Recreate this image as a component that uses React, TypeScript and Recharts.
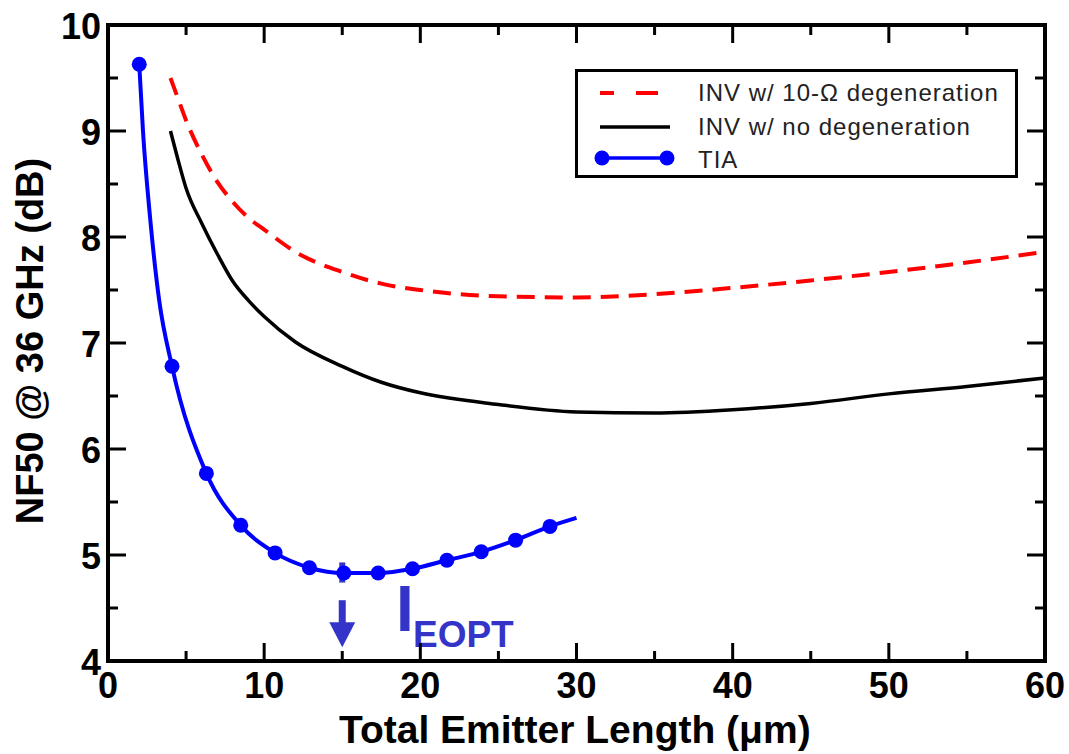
import React from 'react';
import {
  LineChart,
  Line,
  XAxis,
  YAxis,
  ReferenceArea,
  ReferenceLine,
  ReferenceDot,
  Legend,
} from 'recharts';

// TIA curve, marked points carry the round symbols
const tiaLength = [2, 2.24, 2.69, 3.27, 4.1, 6.3, 8.5, 10.7, 12.9, 15.1, 17.3, 19.5, 21.7, 23.9, 26.1, 28.3, 30];
const tiaNF = [9.63, 9.0, 8.19, 7.41, 6.78, 5.77, 5.28, 5.02, 4.88, 4.83, 4.83, 4.87, 4.95, 5.03, 5.14, 5.27, 5.35];
const tiaMarked = [true, false, false, false, true, true, true, true, true, true, true, true, true, true, true, true, false];

// inverter curves
const invLength = [4, 4.5, 5, 6, 7, 8, 9, 10, 12, 15, 17.5, 20, 25, 30, 35, 40, 45, 50, 55, 60];
const invNoDegNF = [9.0, 8.72, 8.46, 8.13, 7.84, 7.58, 7.4, 7.25, 7.01, 6.78, 6.63, 6.53, 6.42, 6.35, 6.34, 6.37, 6.43, 6.52, 6.59, 6.67];
const inv10NF = [9.5, 9.3, 9.1, 8.78, 8.52, 8.33, 8.18, 8.07, 7.86, 7.67, 7.56, 7.5, 7.44, 7.43, 7.46, 7.52, 7.59, 7.67, 7.76, 7.86];

const xTicks = [0, 5, 10, 15, 20, 25, 30, 35, 40, 45, 50, 55, 60];
const yTicks = [4, 4.5, 5, 5.5, 6, 6.5, 7, 7.5, 8, 8.5, 9, 9.5, 10];

const tiaData = tiaLength.map((x, i) => ({ x, y: tiaNF[i], marker: tiaMarked[i] }));
const noDegData = invLength.map((x, i) => ({ x, y: invNoDegNF[i] }));
const deg10Data = invLength.map((x, i) => ({ x, y: inv10NF[i] }));

const W = 1069;
const H = 754;
const MARGIN = { top: 25, right: 24, bottom: 33, left: 48 };
const PLOT_TOP = MARGIN.top;
const PLOT_RIGHT = W - MARGIN.right;
const FONT = '"Liberation Sans", Arial, Helvetica, sans-serif';
const BLUE = '#0000ff';
const ANNOT = '#3434c8';

const XTick = (props: any) => {
  const { x, y, payload } = props;
  const major = payload.value % 10 === 0;
  const len = major ? 18 : 10;
  return (
    <g>
      <line x1={x} y1={y} x2={x} y2={y - len} stroke="#000" strokeWidth={3} />
      <line x1={x} y1={PLOT_TOP} x2={x} y2={PLOT_TOP + len} stroke="#000" strokeWidth={3} />
      {major && (
        <text x={x} y={y + 37} textAnchor="middle" fontSize={36} fontWeight="bold" fontFamily={FONT} fill="#000">
          {payload.value}
        </text>
      )}
    </g>
  );
};

const YTick = (props: any) => {
  const { x, y, payload } = props;
  const major = Number.isInteger(payload.value);
  const len = major ? 18 : 10;
  return (
    <g>
      <line x1={x} y1={y} x2={x + len} y2={y} stroke="#000" strokeWidth={3} />
      <line x1={PLOT_RIGHT} y1={y} x2={PLOT_RIGHT - len} y2={y} stroke="#000" strokeWidth={3} />
      {major && (
        <text x={x - 7} y={y + 14} textAnchor="end" fontSize={36} fontWeight="bold" fontFamily={FONT} fill="#000">
          {payload.value}
        </text>
      )}
    </g>
  );
};

const tiaDot = (p: any) =>
  p.payload.marker ? (
    <circle key={p.index} cx={p.cx} cy={p.cy} r={7.5} fill={BLUE} />
  ) : (
    <g key={p.index} />
  );

const ArrowShape = (p: any) => {
  const { cx, cy } = p; // cx, cy = arrow tip
  return (
    <g fill={ANNOT}>
      <rect x={cx - 3.5} y={cy - 47} width={7} height={25} />
      <polygon points={`${cx - 13},${cy - 25} ${cx + 13},${cy - 25} ${cx},${cy}`} />
    </g>
  );
};

const IeoptLabel = (p: any) => {
  const { cx, cy } = p;
  return (
    <g fill={ANNOT} fontFamily={FONT} fontWeight="bold">
      <text x={cx} y={cy} fontSize={64}>I</text>
      <text x={cx + 17} y={cy + 16} fontSize={37}>EOPT</text>
    </g>
  );
};

const renderLegend = () => (
  <svg width={444} height={110} style={{ display: 'block' }}>
    <rect x={1.5} y={1.5} width={440} height={106} fill="#fff" stroke="#000" strokeWidth={3} />
    <line x1={25} y1={24} x2={83} y2={24} stroke="#ff0000" strokeWidth={4} strokeDasharray="14 22 22 100" />
    <line x1={25} y1={58} x2={95} y2={58} stroke="#000" strokeWidth={3.5} />
    <line x1={27} y1={89} x2={92} y2={89} stroke={BLUE} strokeWidth={3.5} />
    <circle cx={27} cy={89} r={7.5} fill={BLUE} />
    <circle cx={92} cy={89} r={7.5} fill={BLUE} />
    <g fontFamily={FONT} fontSize={24} letterSpacing={1} fill="#222">
      <text x={123} y={32}>INV w/ 10-Ω degeneration</text>
      <text x={123} y={66}>INV w/ no degeneration</text>
      <text x={123} y={99}>TIA</text>
    </g>
  </svg>
);

export default function App() {
  return (
    <div style={{ position: 'absolute', left: 0, top: 0, background: '#fff' }}>
      <LineChart width={W} height={H} margin={MARGIN}>
        <XAxis
          type="number"
          dataKey="x"
          domain={[0, 60]}
          ticks={xTicks}
          interval={0}
          height={60}
          axisLine={false}
          tickLine={false}
          tickSize={0}
          tickMargin={0}
          tick={<XTick />}
          label={{
            content: () => (
              <text x={339} y={743} fontSize={39} fontWeight="bold" fontFamily={FONT} fill="#000">
                Total Emitter Length (μm)
              </text>
            ),
          }}
        />
        <YAxis
          type="number"
          dataKey="y"
          domain={[4, 10]}
          ticks={yTicks}
          interval={0}
          width={60}
          axisLine={false}
          tickLine={false}
          tickSize={0}
          tickMargin={0}
          tick={<YTick />}
          label={{
            content: () => (
              <text
                transform="translate(43,341) rotate(-90)"
                textAnchor="middle"
                fontSize={38}
                fontWeight="bold"
                fontFamily={FONT}
                fill="#000"
              >
                NF50 @ 36 GHz (dB)
              </text>
            ),
          }}
        />
        <Legend
          layout="vertical"
          align="center"
          verticalAlign="middle"
          content={renderLegend}
          wrapperStyle={{ position: 'absolute', left: 575, top: 69, width: 444, height: 110 }}
        />
        <Line
          data={deg10Data}
          dataKey="y"
          type="monotone"
          stroke="#ff0000"
          strokeWidth={4}
          strokeDasharray="18 10"
          dot={false}
          activeDot={false}
          isAnimationActive={false}
        />
        <Line
          data={noDegData}
          dataKey="y"
          type="monotone"
          stroke="#000"
          strokeWidth={3.5}
          dot={false}
          activeDot={false}
          isAnimationActive={false}
        />
        <Line
          data={tiaData}
          dataKey="y"
          type="monotone"
          stroke={BLUE}
          strokeWidth={4}
          dot={tiaDot}
          activeDot={false}
          isAnimationActive={false}
        />
        <ReferenceArea x1={0} x2={60} y1={4} y2={10} fill="none" stroke="#000" strokeWidth={4} />
        <ReferenceLine
          segment={[
            { x: 15, y: 4.74 },
            { x: 15, y: 4.93 },
          ]}
          stroke={ANNOT}
          strokeWidth={6}
        />
        <ReferenceDot x={15} y={4.13} shape={ArrowShape} />
        <ReferenceDot x={18.44} y={4.283} shape={IeoptLabel} />
      </LineChart>
    </div>
  );
}
